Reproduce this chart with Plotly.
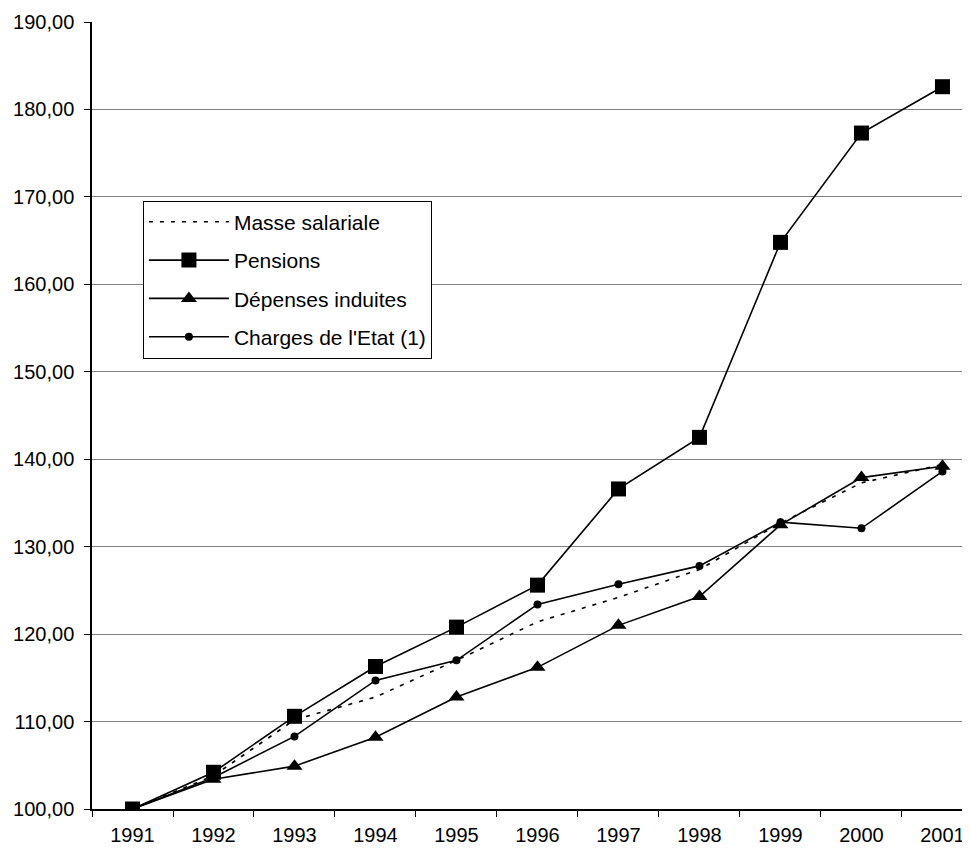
import plotly.graph_objects as go

years = ["1991", "1992", "1993", "1994", "1995", "1996", "1997", "1998", "1999", "2000", "2001"]
masse_salariale = [100.0, 103.8, 110.2, 112.8, 117.0, 121.4, 124.2, 127.4, 132.7, 137.3, 139.4]
pensions = [100.0, 104.2, 110.6, 116.3, 120.8, 125.6, 136.6, 142.5, 164.8, 177.3, 182.6]
depenses_induites = [100.0, 103.4, 104.9, 108.2, 112.8, 116.2, 121.0, 124.3, 132.5, 137.9, 139.2]
charges_etat = [100.0, 103.6, 108.3, 114.7, 117.0, 123.4, 125.7, 127.8, 132.8, 132.1, 138.6]

FONT = "Liberation Sans, Arial, sans-serif"

fig = go.Figure()
fig.add_trace(go.Scatter(x=years, y=masse_salariale, name="Masse salariale", mode="lines",
                         legendgroup="a",
                         line=dict(color="black", width=1.6, dash="4px,7px")))
fig.add_trace(go.Scatter(x=years, y=pensions, name="Pensions", mode="lines+markers",
                         legendgroup="b",
                         line=dict(color="black", width=1.6),
                         marker=dict(symbol="square", size=15, color="black")))
fig.add_trace(go.Scatter(x=years, y=depenses_induites, name="Dépenses induites", mode="lines+markers",
                         legendgroup="c",
                         line=dict(color="black", width=1.6),
                         marker=dict(symbol="triangle-up", size=14, color="black")))
fig.add_trace(go.Scatter(x=years, y=charges_etat, name="Charges de l'Etat (1)", mode="lines+markers",
                         legendgroup="d",
                         line=dict(color="black", width=1.6),
                         marker=dict(symbol="circle", size=8, color="black")))

# The page body adds an 8px margin, so the figure is sized/offset to compensate.
fig.update_layout(
    width=962, height=843,
    margin=dict(l=84, r=0, t=14, b=42, autoexpand=False),
    paper_bgcolor="white", plot_bgcolor="white",
    separators=", ",
    font=dict(family=FONT, size=20, color="black"),
    showlegend=True,
    legend=dict(x=0.058, y=0.773, xanchor="left", yanchor="top",
                bgcolor="white", bordercolor="black", borderwidth=1,
                font=dict(family=FONT, size=21, color="black"),
                itemwidth=80, tracegroupgap=8, groupclick="toggleitem"),
    xaxis=dict(type="category", range=[-0.5, 10.34], showgrid=False, automargin=False,
               showline=True, linecolor="black", linewidth=2,
               ticks="outside", tickson="boundaries", ticklen=6, tickcolor="black",
               ticklabelstandoff=7,
               tickfont=dict(family=FONT, size=20, color="black")),
    yaxis=dict(range=[100, 190], dtick=10, tickformat=".2f", automargin=False,
               showgrid=True, gridcolor="#808080", gridwidth=1.3,
               showline=True, linecolor="black", linewidth=1.5,
               ticks="outside", ticklen=6, tickcolor="black",
               ticklabelstandoff=6,
               tickfont=dict(family=FONT, size=20, color="black"),
               zeroline=False),
)

fig.write_html("out.html")
